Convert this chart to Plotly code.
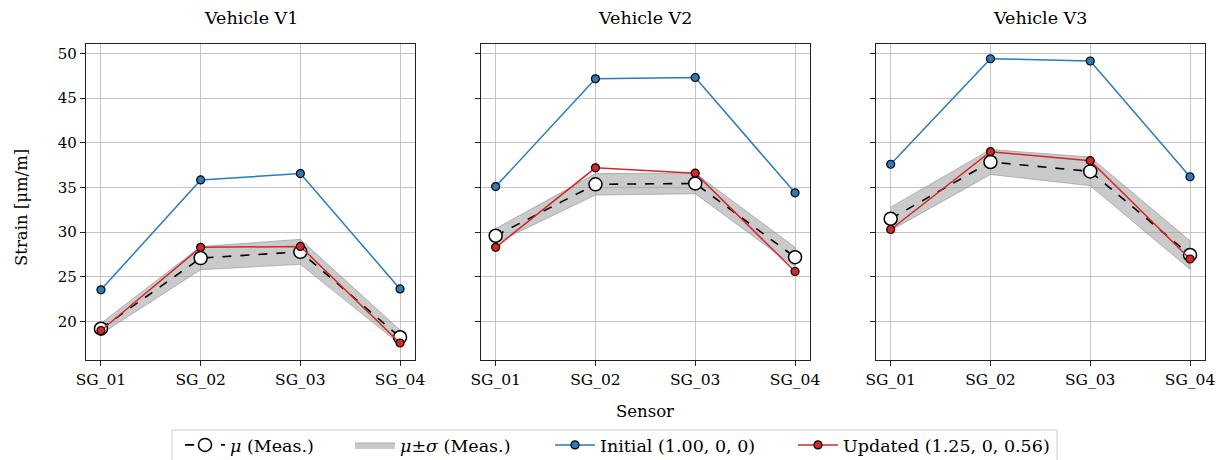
import plotly.graph_objects as go

sensors = ["SG_01", "SG_02", "SG_03", "SG_04"]
vehicles = ["Vehicle V1", "Vehicle V2", "Vehicle V3"]

meas_mean = {
    "Vehicle V1": [19.2, 27.1, 27.8, 18.25],
    "Vehicle V2": [29.6, 35.35, 35.45, 27.2],
    "Vehicle V3": [31.5, 37.85, 36.8, 27.45],
}
meas_std = {
    "Vehicle V1": [0.6, 1.3, 1.4, 0.8],
    "Vehicle V2": [0.8, 1.2, 1.15, 1.1],
    "Vehicle V3": [1.3, 1.4, 1.6, 1.6],
}
initial = {
    "Vehicle V1": [23.55, 35.85, 36.55, 23.65],
    "Vehicle V2": [35.1, 47.15, 47.3, 34.4],
    "Vehicle V3": [37.6, 49.4, 49.15, 36.2],
}
updated = {
    "Vehicle V1": [19.0, 28.3, 28.4, 17.6],
    "Vehicle V2": [28.3, 37.2, 36.6, 25.6],
    "Vehicle V3": [30.3, 39.0, 38.0, 27.0],
}
yticks = [20, 25, 30, 35, 40, 45, 50]
legend_names = ["<i>μ</i> (Meas.)", "<i>μ</i>±<i>σ</i> (Meas.)",
                "Initial (1.00, 0, 0)", "Updated (1.25, 0, 0.56)"]

BLUE = "#2b7bba"
RED = "#d62728"
FONT = "'DejaVu Serif', 'Liberation Serif', serif"

W, H = 1223, 460
OFF = 8  # page body margin
top_px, bot_px = 44 - OFF, 360 - OFF
x_doms_px = [(86 - OFF, 415 - OFF), (480.7 - OFF, 810 - OFF), (875.7 - OFF, 1205 - OFF)]
ph = bot_px - top_px


def px_x(p):
    return (p - OFF) / W


def px_y(p):
    return (bot_px - (p - OFF)) / ph


fig = go.Figure()
xs = list(range(len(sensors)))

for i, v in enumerate(vehicles):
    ax = "" if i == 0 else str(i + 1)
    xa, ya = "x" + ax, "y" + ax
    first = i == 0
    m = meas_mean[v]
    s = meas_std[v]
    upper = [a + b for a, b in zip(m, s)]
    lower = [a - b for a, b in zip(m, s)]
    fig.add_trace(go.Scatter(
        x=xs + xs[::-1], y=upper + lower[::-1], fill="toself",
        fillcolor="rgba(150,150,150,0.5)", line=dict(color="rgba(130,130,130,0.5)", width=1),
        mode="lines", name=legend_names[1], legend="legend2",
        showlegend=first, hoverinfo="skip", xaxis=xa, yaxis=ya))
    fig.add_trace(go.Scatter(
        x=xs, y=initial[v], mode="lines+markers",
        line=dict(color=BLUE, width=1.5),
        marker=dict(color=BLUE, size=8, line=dict(color="black", width=1.2)),
        name=legend_names[2], legend="legend3", showlegend=first, xaxis=xa, yaxis=ya))
    fig.add_trace(go.Scatter(
        x=xs, y=m, mode="lines+markers",
        line=dict(color="black", width=1.6, dash="dash"),
        marker=dict(color="white", size=13, line=dict(color="black", width=1.5)),
        name=legend_names[0], legend="legend", showlegend=first, xaxis=xa, yaxis=ya))
    fig.add_trace(go.Scatter(
        x=xs, y=updated[v], mode="lines+markers",
        line=dict(color=RED, width=1.5),
        marker=dict(color=RED, size=8, line=dict(color="black", width=1.2)),
        name=legend_names[3], legend="legend4", showlegend=first, xaxis=xa, yaxis=ya))

layout = dict(
    width=W, height=H,
    margin=dict(l=0, r=0, t=top_px, b=H - bot_px, autoexpand=False),
    plot_bgcolor="white", paper_bgcolor="white",
    font=dict(family=FONT, size=15, color="black"),
    annotations=[],
    shapes=[dict(type="rect", xref="paper", yref="paper",
                 x0=px_x(172), x1=px_x(1057), y0=px_y(430), y1=px_y(475),
                 line=dict(color="#cccccc", width=1), fillcolor="rgba(255,255,255,0)")],
)
# legend entries positioned individually (symbol start positions from the reference)
sym_starts = [180, 350, 550, 793]
for k, xs0 in enumerate(sym_starts):
    key = "legend" if k == 0 else "legend%d" % (k + 1)
    layout[key] = dict(x=px_x(xs0), xanchor="left", y=px_y(445), yanchor="middle",
                       xref="paper", yref="paper", orientation="h",
                       bgcolor="rgba(255,255,255,0)", borderwidth=0, itemwidth=40,
                       font=dict(family=FONT, size=17.5))

for i, v in enumerate(vehicles):
    ax = "" if i == 0 else str(i + 1)
    l, r = x_doms_px[i]
    layout["xaxis" + ax] = dict(
        domain=[l / W, r / W], range=[-0.15, 3.15], tickvals=xs, ticktext=sensors,
        showline=True, mirror=True, linecolor="#222", linewidth=1.2,
        ticks="outside", ticklen=5, tickcolor="#222", automargin=False,
        showgrid=True, gridcolor="#c4c4c4", gridwidth=1, zeroline=False,
        anchor="y" + ax, tickfont=dict(size=15.5))
    layout["yaxis" + ax] = dict(
        domain=[0, 1], range=[15.7, 51.05], tickvals=yticks,
        showticklabels=(i == 0), automargin=False,
        showline=True, mirror=True, linecolor="#222", linewidth=1.2,
        ticks="outside", ticklen=5, tickcolor="#222",
        showgrid=True, gridcolor="#c4c4c4", gridwidth=1, zeroline=False,
        anchor="x" + ax, tickfont=dict(size=15))
    if i > 0:
        layout["yaxis" + ax]["matches"] = "y"
    layout["annotations"].append(dict(
        text=v, x=((l + r) / 2) / W, y=px_y(18),
        xref="paper", yref="paper", showarrow=False, xanchor="center", yanchor="middle",
        font=dict(size=17.5, family=FONT)))

layout["annotations"].append(dict(
    text="Strain [μm/m]", x=px_x(21), y=px_y(208), textangle=-90,
    xref="paper", yref="paper", showarrow=False, xanchor="center", yanchor="middle",
    font=dict(size=16.5, family=FONT)))
layout["annotations"].append(dict(
    text="Sensor", x=((480.7 + 810) / 2 - OFF) / W, y=px_y(411),
    xref="paper", yref="paper", showarrow=False, xanchor="center", yanchor="middle",
    font=dict(size=16.5, family=FONT)))

fig.update_layout(**layout)
fig.write_html("out.html")
